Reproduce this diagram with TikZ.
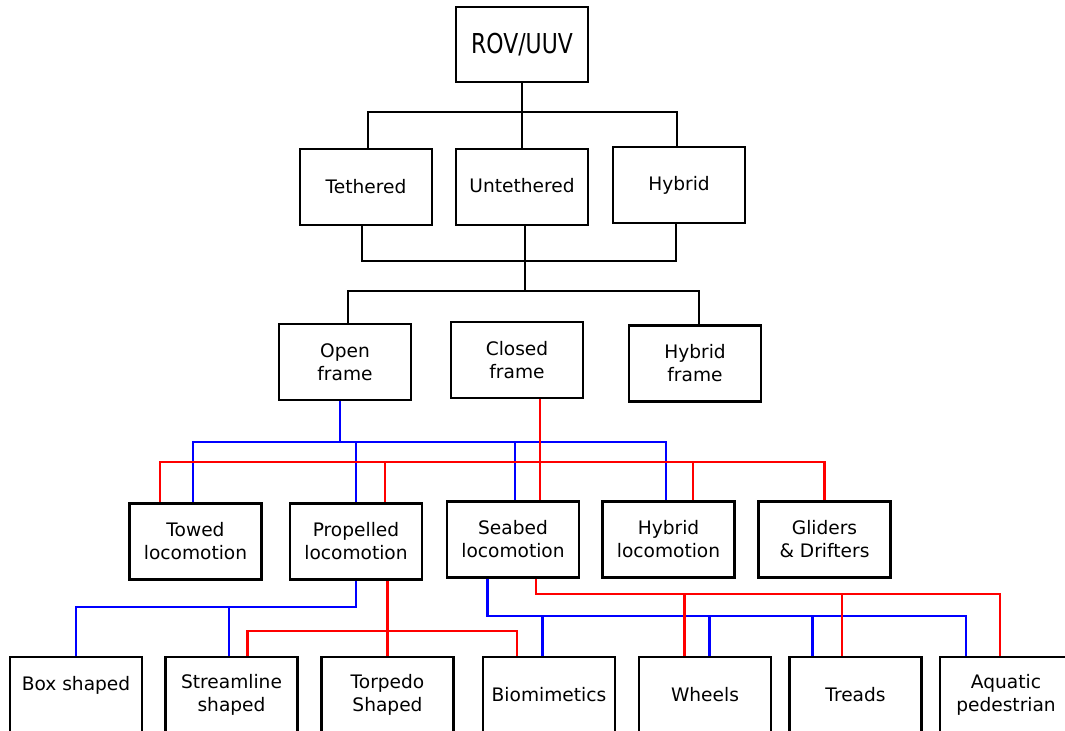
\documentclass[tikz,border=0pt]{standalone}
\usepackage{fontspec}
\setmainfont{DejaVu Sans}
\newfontfamily\rovfont[FakeStretch=0.8]{DejaVu Sans}
\usetikzlibrary{calc}

\begin{document}
\begin{tikzpicture}[x=0.5pt, y=-0.5pt,
    box/.style={draw, line width=1.35pt, minimum width=66pt, minimum height=38pt,
        inner sep=0pt, align=center, font=\fontsize{9.3pt}{11.5pt}\selectfont},
    blackline/.style={line width=1.1pt},
    blueline/.style={line width=1.35pt, blue},
    redline/.style={line width=1.35pt, red}]
    % Page frame
    \useasboundingbox (0,0) rectangle (1065,731);
    \fill [white] (0,0) rectangle (1065,731);
    \clip (0,0) rectangle (1065,731);

    % Top level
    \node [box, minimum height=37.5pt, font=\rovfont\fontsize{13.7pt}{16pt}\selectfont] (rov) at (522,44.5) {ROV/UUV};

    % Tether type
    \node [box] (teth) at (366,187) {Tethered};
    \node [box] (untet) at (522,187) {\raisebox{2pt}{Untethered}};
    \node [box] (hybr) at (679,185) {Hybrid};

    % Frame type
    \node [box] (open) at (345,362) {Open\\frame};
    \node [box] (closed) at (517,360) {Closed\\frame};
    \node [box] (hframe) at (695,363.5) {Hybrid\\frame};

    % Locomotion type
    \node [box] (towed) at (195.5,541.5) {Towed\\locomotion};
    \node [box] (prop) at (356,541.5) {Propelled\\locomotion};
    \node [box] (seabed) at (513,539.5) {Seabed\\locomotion};
    \node [box] (hloco) at (668.5,539.5) {Hybrid\\locomotion};
    \node [box] (glide) at (824.5,539.5) {Gliders\\\& Drifters};

    % Hull shapes and seabed means
    \node [box] (boxsh) at (76,695) {Box shaped\\\mbox{}};
    \node [box] (stream) at (231.5,695) {Streamline\\shaped};
    \node [box] (torp) at (387.5,695) {Torpedo\\Shaped};
    \node [box] (biom) at (549,695) {Biomimetics};
    \node [box] (wheel) at (705,695) {Wheels};
    \node [box] (tread) at (855.5,695) {Treads};
    \node [box] (aqua) at (1006,695) {Aquatic\\pedestrian};

    % Bus points
    \coordinate (topbus) at (522,112);
    \coordinate (midbus) at (525,261);
    \coordinate (framebus) at (525,291);
    \coordinate (openbus) at (340,442);
    \coordinate (closedbus) at (540,462);
    \coordinate (propbus) at (356,607);
    \coordinate (proprbus) at (387.5,631);
    \coordinate (seabus) at (966,616);
    \coordinate (searbus) at (1000,594);

    % Black tree
    \draw [blackline] (rov.south) -- (untet.north);
    \draw [blackline] ([xshift=1pt]teth.north) |- (topbus) -| ([xshift=-1pt]hybr.north);
    \draw [blackline] ([xshift=-2pt]teth.south) |- (midbus) -| ([xshift=-1.5pt]hybr.south);
    \draw [blackline] ([xshift=1.5pt]untet.south) -- (framebus);
    \draw [blackline] ([xshift=1.5pt]open.north) |- (framebus) -| ([xshift=2pt]hframe.north);

    % Open frame (blue)
    \draw [blueline] ([xshift=-2.5pt]open.south) -- (openbus);
    \draw [blueline] ([xshift=-1.25pt]towed.north) |- (openbus) -| ([xshift=-1.25pt]hloco.north);
    \draw [blueline] (prop.north) |- (openbus);
    \draw [blueline] ([xshift=1pt]seabed.north) |- (openbus);

    % Closed frame (red)
    \draw [redline] ([xshift=11.5pt]closed.south) -- ([xshift=13.5pt]seabed.north);
    \draw [redline] ([xshift=-17.75pt]towed.north) |- (closedbus) -| (glide.north);
    \draw [redline] ([xshift=14.5pt]prop.north) |- (closedbus);
    \draw [redline] ([xshift=12.25pt]hloco.north) |- (closedbus);

    % Propelled locomotion
    \draw [blueline] (prop.south) -- (propbus) -| (boxsh.north);
    \draw [blueline] ([xshift=-1.25pt]stream.north) |- (propbus);
    \draw [redline] ([xshift=15.75pt]prop.south) -- (torp.north);
    \draw [redline] ([xshift=8pt]stream.north) |- (proprbus) -| ([xshift=-16pt]biom.north);

    % Seabed locomotion
    \draw [blueline] ([xshift=-12.75pt]seabed.south) |- (seabus) -- ([xshift=-20pt]aqua.north);
    \draw [blueline] ([xshift=-3.15pt]biom.north) |- (seabus);
    \draw [blueline] ([xshift=2.25pt]wheel.north) |- (seabus);
    \draw [blueline] ([xshift=-21.35pt]tread.north) |- (seabus);
    \draw [redline] ([xshift=11.5pt]seabed.south) |- (searbus) -- ([xshift=-3pt]aqua.north);
    \draw [redline] ([xshift=-10.25pt]wheel.north) |- (searbus);
    \draw [redline] ([xshift=-6.75pt]tread.north) |- (searbus);
\end{tikzpicture}
\end{document}
